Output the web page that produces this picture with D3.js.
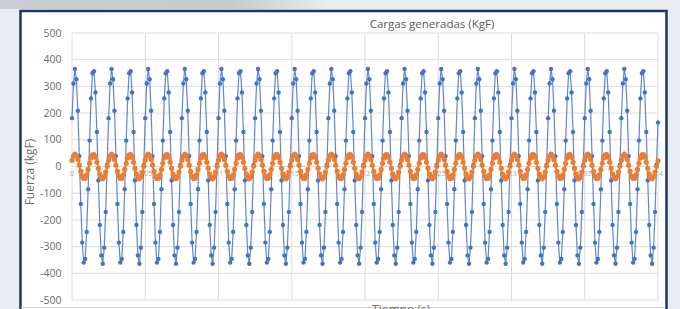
<!DOCTYPE html>
<html>
<head>
<meta charset="utf-8">
<script src="https://cdn.jsdelivr.net/npm/d3@7"></script>
<style>
  body { margin: 0; background: #e9ecf1; }
  svg { display: block; font-family: "Open Sans", "Liberation Sans", sans-serif; }
</style>
</head>
<body>
<div id="chart"></div>
<script>
// sampling step of the recorded signal (s)
var dt = 0.001;

// Serie 1 (azul), kgF, one value per sample
var cargaAzul = [
  181,311,365,327,209,39,-140,-285,-360,-346,-245,-85,97,255,349,357,277,129,-52,-219,-333,-364,-304,-170,7,
  181,311,365,327,209,39,-140,-285,-360,-346,-245,-85,97,255,349,357,277,129,-52,-219,-333,-364,-304,-170,7,
  181,311,365,327,209,39,-140,-285,-360,-346,-245,-85,97,255,349,357,277,129,-52,-219,-333,-364,-304,-170,7,
  181,311,365,327,209,39,-140,-285,-360,-346,-245,-85,97,255,349,357,277,129,-52,-219,-333,-364,-304,-170,7,
  181,311,365,327,209,39,-140,-285,-360,-346,-245,-85,97,255,349,357,277,129,-52,-219,-333,-364,-304,-170,7,
  181,311,365,327,209,39,-140,-285,-360,-346,-245,-85,97,255,349,357,277,129,-52,-219,-333,-364,-304,-170,7,
  181,311,365,327,209,39,-140,-285,-360,-346,-245,-85,97,255,349,357,277,129,-52,-219,-333,-364,-304,-170,7,
  181,311,365,327,209,39,-140,-285,-360,-346,-245,-85,97,255,349,357,277,129,-52,-219,-333,-364,-304,-170,7,
  181,311,365,327,209,39,-140,-285,-360,-346,-245,-85,97,255,349,357,277,129,-52,-219,-333,-364,-304,-170,7,
  181,311,365,327,209,39,-140,-285,-360,-346,-245,-85,97,255,349,357,277,129,-52,-219,-333,-364,-304,-170,7,
  181,311,365,327,209,39,-140,-285,-360,-346,-245,-85,97,255,349,357,277,129,-52,-219,-333,-364,-304,-170,7,
  181,311,365,327,209,39,-140,-285,-360,-346,-245,-85,97,255,349,357,277,129,-52,-219,-333,-364,-304,-170,7,
  181,311,365,327,209,39,-140,-285,-360,-346,-245,-85,97,255,349,357,277,129,-52,-219,-333,-364,-304,-170,7,
  181,311,365,327,209,39,-140,-285,-360,-346,-245,-85,97,255,349,357,277,129,-52,-219,-333,-364,-304,-170,7,
  181,311,365,327,209,39,-140,-285,-360,-346,-245,-85,97,255,349,357,277,129,-52,-219,-333,-364,-304,-170,7,
  181,311,365,327,209,39,-140,-285,-360,-346,-245,-85,97,255,349,357,277,129,-52,-219,-333,-364,-304,-170,7,
  165
];

// Serie 2 (naranja), kgF
var cargaNaranja = [
  23,39,46,41,26,5,-18,-36,-45,-44,-31,-11,12,32,44,45,35,16,-7,-28,-42,-46,-38,-21,1,
  23,39,46,41,26,5,-18,-36,-45,-44,-31,-11,12,32,44,45,35,16,-7,-28,-42,-46,-38,-21,1,
  23,39,46,41,26,5,-18,-36,-45,-44,-31,-11,12,32,44,45,35,16,-7,-28,-42,-46,-38,-21,1,
  23,39,46,41,26,5,-18,-36,-45,-44,-31,-11,12,32,44,45,35,16,-7,-28,-42,-46,-38,-21,1,
  23,39,46,41,26,5,-18,-36,-45,-44,-31,-11,12,32,44,45,35,16,-7,-28,-42,-46,-38,-21,1,
  23,39,46,41,26,5,-18,-36,-45,-44,-31,-11,12,32,44,45,35,16,-7,-28,-42,-46,-38,-21,1,
  23,39,46,41,26,5,-18,-36,-45,-44,-31,-11,12,32,44,45,35,16,-7,-28,-42,-46,-38,-21,1,
  23,39,46,41,26,5,-18,-36,-45,-44,-31,-11,12,32,44,45,35,16,-7,-28,-42,-46,-38,-21,1,
  23,39,46,41,26,5,-18,-36,-45,-44,-31,-11,12,32,44,45,35,16,-7,-28,-42,-46,-38,-21,1,
  23,39,46,41,26,5,-18,-36,-45,-44,-31,-11,12,32,44,45,35,16,-7,-28,-42,-46,-38,-21,1,
  23,39,46,41,26,5,-18,-36,-45,-44,-31,-11,12,32,44,45,35,16,-7,-28,-42,-46,-38,-21,1,
  23,39,46,41,26,5,-18,-36,-45,-44,-31,-11,12,32,44,45,35,16,-7,-28,-42,-46,-38,-21,1,
  23,39,46,41,26,5,-18,-36,-45,-44,-31,-11,12,32,44,45,35,16,-7,-28,-42,-46,-38,-21,1,
  23,39,46,41,26,5,-18,-36,-45,-44,-31,-11,12,32,44,45,35,16,-7,-28,-42,-46,-38,-21,1,
  23,39,46,41,26,5,-18,-36,-45,-44,-31,-11,12,32,44,45,35,16,-7,-28,-42,-46,-38,-21,1,
  23,39,46,41,26,5,-18,-36,-45,-44,-31,-11,12,32,44,45,35,16,-7,-28,-42,-46,-38,-21,1,
  21
];

var xTicks = [0, 0.05, 0.1, 0.15, 0.2, 0.25, 0.3, 0.35, 0.4];
var yTicks = [-500, -400, -300, -200, -100, 0, 100, 200, 300, 400, 500];

var W = 680, H = 309;

var svg = d3.select("#chart").append("svg")
            .attr("width", W)
            .attr("height", H);

var defs = svg.append("defs");
var grad = defs.append("linearGradient").attr("id", "strip")
               .attr("x1", 0).attr("x2", 1).attr("y1", 0).attr("y2", 0);
grad.append("stop").attr("offset", "0%").attr("stop-color", "#c4c8ce");
grad.append("stop").attr("offset", "70%").attr("stop-color", "#bdc1c7");
grad.append("stop").attr("offset", "100%").attr("stop-color", "#e9ecf1");

// blurred strip top-left
svg.append("rect").attr("x", 0).attr("y", 0).attr("width", 330).attr("height", 9)
   .style("fill", "url(#strip)").style("opacity", 0.8);

// chart frame
svg.append("rect")
   .attr("x", 20.5).attr("y", 11)
   .attr("width", 646).attr("height", 320)
   .style("fill", "#ffffff")
   .style("stroke", "#1f3560")
   .style("stroke-width", 2.5);

var x = d3.scaleLinear().domain([0, 0.4]).range([72, 658]);
var y = d3.scaleLinear().domain([-500, 500]).range([300, 33]);

// gridlines
svg.append("g").selectAll("line")
   .data(yTicks).enter().append("line")
   .attr("x1", x(0)).attr("x2", x(0.4))
   .attr("y1", function (d) { return y(d); })
   .attr("y2", function (d) { return y(d); })
   .style("stroke", "#dcdcdc").style("stroke-width", 1);

svg.append("g").selectAll("line")
   .data(xTicks).enter().append("line")
   .attr("x1", function (d) { return x(d); })
   .attr("x2", function (d) { return x(d); })
   .attr("y1", y(500)).attr("y2", y(-500))
   .style("stroke", "#dcdcdc").style("stroke-width", 1);

// y axis labels
svg.append("g").selectAll("text")
   .data(yTicks).enter().append("text")
   .attr("x", 61.5)
   .attr("y", function (d) { return y(d); })
   .attr("dy", "0.35em")
   .attr("text-anchor", "end")
   .style("font-size", "10.5px")
   .style("fill", "#6b6b6b")
   .text(function (d) { return d; });

// x tick labels along the zero line
svg.append("g").selectAll("text")
   .data(xTicks).enter().append("text")
   .attr("x", function (d) { return x(d); })
   .attr("y", y(0) + 9)
   .attr("text-anchor", "middle")
   .style("font-size", "7px")
   .style("fill", "#a6a6a6")
   .text(function (d) { return d; });

// titles
svg.append("text")
   .attr("x", 432).attr("y", 28)
   .attr("text-anchor", "middle")
   .style("font-size", "11.5px")
   .style("fill", "#595959")
   .text("Cargas generadas (KgF)");

svg.append("text")
   .attr("transform", "translate(34,172) rotate(-90)")
   .attr("text-anchor", "middle")
   .style("font-size", "12px")
   .style("fill", "#6b6b6b")
   .text("Fuerza (kgF)");

svg.append("line")
   .attr("x1", 21).attr("x2", 665).attr("y1", 307.5).attr("y2", 307.5)
   .style("stroke", "#d4d4d4").style("stroke-width", 1);

svg.append("text")
   .attr("x", 401).attr("y", 314)
   .attr("text-anchor", "middle")
   .style("font-size", "12px")
   .style("fill", "#6b6b6b")
   .text("Tiempo (s)");

// series
function drawSeries(values, color, lineW, r) {
  var pts = values.map(function (v, i) { return { t: i * dt, v: v }; });
  var line = d3.line()
               .x(function (d) { return x(d.t); })
               .y(function (d) { return y(d.v); });
  svg.append("path")
     .datum(pts)
     .attr("d", line)
     .style("fill", "none")
     .style("stroke", color)
     .style("stroke-width", lineW)
     .style("stroke-opacity", 0.85);
  svg.append("g").selectAll("circle")
     .data(pts).enter().append("circle")
     .attr("cx", function (d) { return x(d.t); })
     .attr("cy", function (d) { return y(d.v); })
     .attr("r", r)
     .style("fill", color);
}

drawSeries(cargaAzul, "#4472c4", 1.2, 2.2);
drawSeries(cargaNaranja, "#ed7d31", 1.6, 2.6);
</script>
</body>
</html>
